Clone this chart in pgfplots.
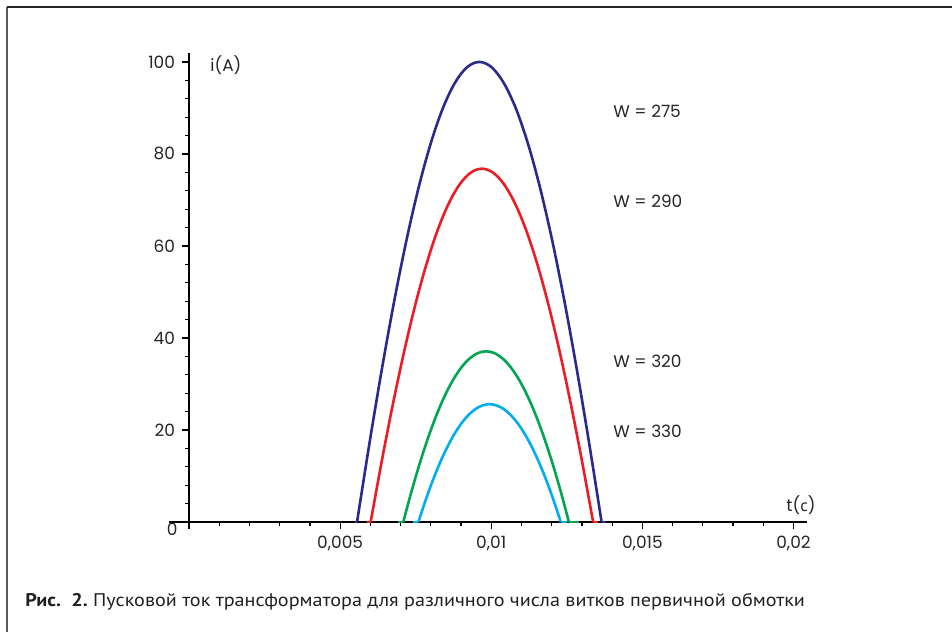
\documentclass[border=0pt]{standalone}
\usepackage{fontspec}
\setmainfont{Poppins}
\newfontfamily\capfont[FakeStretch=1.1]{PT Sans}
\newfontfamily\cyr{PT Sans}
\usepackage{pgfplots}
\pgfplotsset{compat=1.18}

\definecolor{wblue}{RGB}{43,42,140}
\definecolor{wred}{RGB}{237,28,36}
\definecolor{wgreen}{RGB}{0,166,81}
\definecolor{wcyan}{RGB}{0,174,239}
\definecolor{captxt}{RGB}{35,31,32}

\begin{document}
\begin{tikzpicture}
\path[use as bounding box] (0,0) rectangle (476bp,316bp);
% frame of the figure
\draw[line width=1bp, black!65] (3.6bp,0) -- (3.6bp,312.4bp);
\draw[line width=1bp, black!85] (3.6bp,312.4bp) -- (476bp,312.4bp);

\begin{axis}[
    at={(94.5bp,55bp)}, anchor=south west,
    scale only axis,
    width=308.9bp, height=234.4bp,
    xmin=0, xmax=0.02044,
    ymin=0, ymax=101.9,
    axis lines=left,
    axis line style={-, line width=0.7bp},
    tick style={line width=0.6bp, black},
    tick align=outside,
    major tick length=3.5bp,
    minor tick length=2bp,
    scaled x ticks=false,
    xtick={0,0.005,0.01,0.015,0.02},
    xticklabels={,{0,005},{0,01},{0,015},{0,02}},
    minor xtick={0.001,0.002,0.003,0.004,0.006,0.007,0.008,0.009,0.011,0.012,0.013,0.014,0.016,0.017,0.018,0.019,0.02},
    ytick={0,20,40,60,80,100},
    yticklabels={,20,40,60,80,100},
    minor ytick={4,8,12,16,24,28,32,36,44,48,52,56,64,68,72,76,84,88,92,96},
    extra y ticks={0},
    extra y tick labels={},
    extra y tick style={major tick length=10bp},
    ticklabel style={font=\fontsize{8.5}{9}\selectfont, text=black!85},
    clip=false,
    every axis plot/.append style={line width=1.3bp, line join=round},
]
% W = 275
\addplot[wblue, smooth, tension=0.55] coordinates {
(0.00556,0) (0.0059645,16.86) (0.006369,32.77) (0.0067735,47.46)
(0.007178,60.72) (0.0075825,72.31) (0.007987,82.06) (0.0083915,89.82) (0.008796,95.44)
(0.0092005,98.86) (0.009605,100) (0.0100095,98.86) (0.010414,95.44) (0.0108185,89.82)
(0.011223,82.06) (0.0116275,72.31) (0.012032,60.72) (0.0124365,47.46) (0.012841,32.77)
(0.0132455,16.86) (0.01365,0)
};
\addplot[wblue] coordinates {(0.00549,0) (0.00556,0)};
\addplot[wblue] coordinates {(0.01365,0) (0.01379,0)};
% W = 290
\addplot[wred, smooth, tension=0.55] coordinates {
(0.00601,0) (0.006378,13.24) (0.006746,25.61) (0.007114,36.94)
(0.007482,47.09) (0.00785,55.91) (0.008218,63.30) (0.008586,69.14) (0.008954,73.38)
(0.009322,75.94) (0.00969,76.8) (0.010058,75.94) (0.010426,73.38) (0.010794,69.14)
(0.011162,63.30) (0.01153,55.91) (0.011898,47.09) (0.012266,36.94) (0.012634,25.61)
(0.013002,13.24) (0.01337,0)
};
\addplot[wred] coordinates {(0.00590,0) (0.00601,0)};
\addplot[wred] coordinates {(0.01337,0) (0.01353,0)};
% W = 320
\addplot[wgreen, smooth, tension=0.55] coordinates {
(0.00709,0) (0.007364,6.70) (0.007638,12.83) (0.007912,18.34)
(0.008186,23.21) (0.00846,27.39) (0.008734,30.85) (0.009008,33.57) (0.009282,35.53)
(0.009556,36.71) (0.00983,37.1) (0.010104,36.71) (0.010378,35.53) (0.010652,33.57)
(0.010926,30.85) (0.0112,27.39) (0.011474,23.21) (0.011748,18.34) (0.012022,12.83)
(0.012296,6.70) (0.01257,0)
};
\addplot[wgreen] coordinates {(0.00691,0) (0.00709,0)};
\addplot[wgreen] coordinates {(0.01257,0) (0.01289,0)};
% W = 330
\addplot[wcyan, smooth, tension=0.55] coordinates {
(0.00759,0) (0.0078255,4.68) (0.008061,8.95) (0.0082965,12.76)
(0.008532,16.11) (0.0087675,18.98) (0.009003,21.35) (0.0092385,23.20) (0.009474,24.53)
(0.0097095,25.33) (0.009945,25.6) (0.0101805,25.33) (0.010416,24.53) (0.0106515,23.20)
(0.010887,21.35) (0.0111225,18.98) (0.011358,16.11) (0.0115935,12.76) (0.011829,8.95)
(0.0120645,4.68) (0.0123,0)
};
\addplot[wcyan] coordinates {(0.00742,0) (0.00759,0)};
\addplot[wcyan] coordinates {(0.0123,0) (0.01252,0)};

\begin{scope}[every node/.style={font=\fontsize{8.5}{9}\selectfont, text=black!85, inner sep=0pt}]
\node[anchor=north east] at (axis cs:0,0) [xshift=-5.5bp, yshift=-0.3bp] {0};
\node[anchor=west] at (axis cs:0.000695,99.3) {i(A)};
\node at (axis cs:0.02025,3.6) {t({\cyr с})};
\node[anchor=west] at (axis cs:0.01403,89.35) {W = 275};
\node[anchor=west] at (axis cs:0.01403,69.8) {W = 290};
\node[anchor=west] at (axis cs:0.01403,35.0) {W = 320};
\node[anchor=west] at (axis cs:0.01403,19.8) {W = 330};
\end{scope}
\end{axis}

\node[anchor=base west, inner sep=0pt, text=captxt, font=\capfont\fontsize{9.2}{10}\selectfont]
  at (12.5bp,13bp) {\textbf{Рис.\ \ 2.}\ Пусковой ток трансформатора для различного числа витков первичной обмотки};
\end{tikzpicture}
\end{document}
